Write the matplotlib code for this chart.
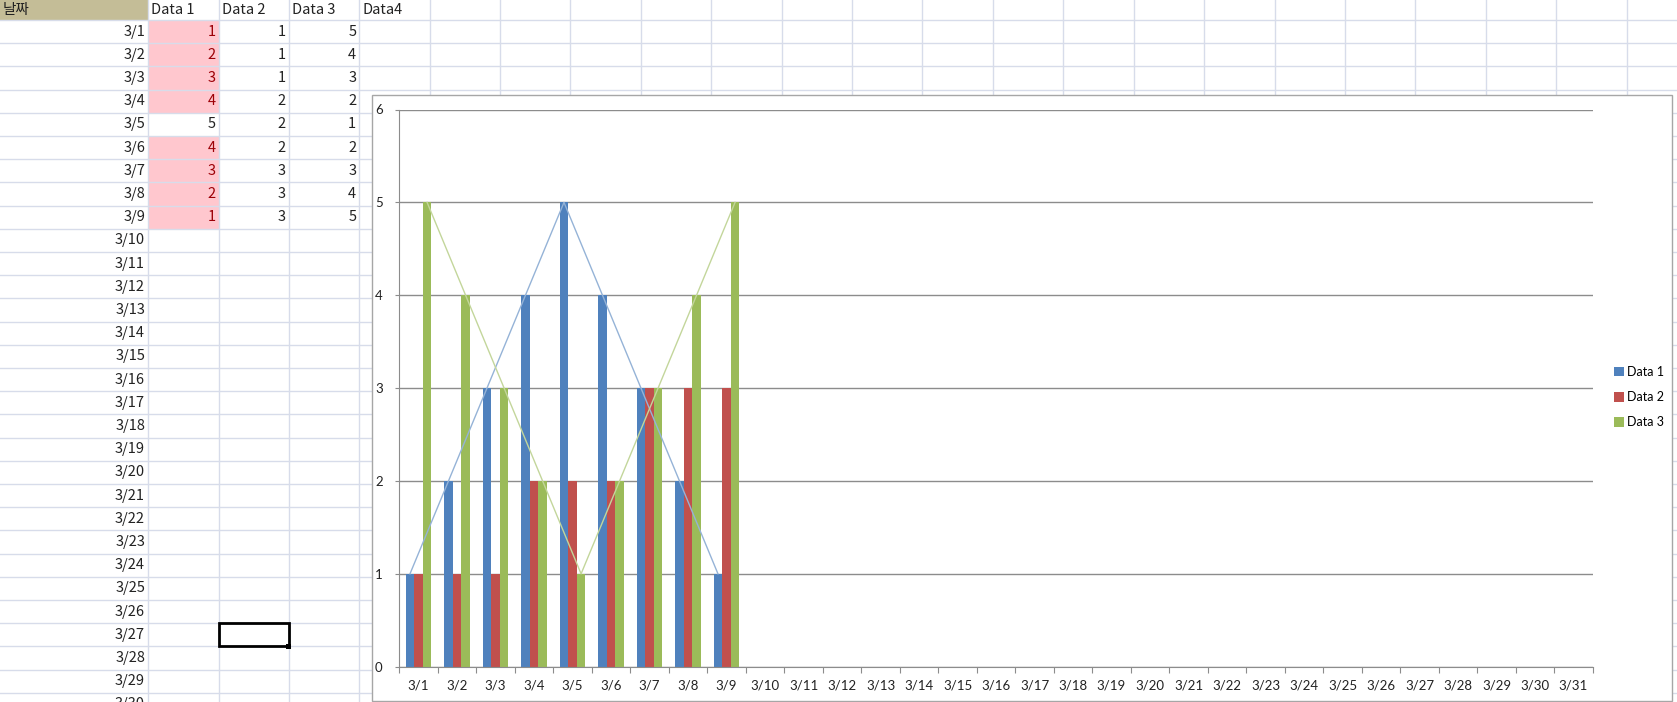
import numpy as np
import matplotlib
matplotlib.use("Agg")
from matplotlib import pyplot as plt
from matplotlib.patches import Rectangle

# data
dates = [f"3/{d}" for d in range(1, 32)]
data1 = [1, 2, 3, 4, 5, 4, 3, 2, 1]
data2 = [1, 1, 1, 2, 2, 2, 3, 3, 3]
data3 = [5, 4, 3, 2, 1, 2, 3, 4, 5]
headers = ["날짜", "Data 1", "Data 2", "Data 3", "Data4"]
series_names = ["Data 1", "Data 2", "Data 3"]
yticks = [0, 1, 2, 3, 4, 5, 6]

W, H = 1677, 702
fig = plt.figure(figsize=(W / 100, H / 100), dpi=100)

# spreadsheet background, drawn in pixel coordinates
bg = fig.add_axes([0, 0, 1, 1])
bg.set_xlim(0, W)
bg.set_ylim(H, 0)
bg.axis("off")

grid_c = "#D7DCEA"
sheet_font = ["Noto Sans CJK KR", "DejaVu Sans"]
row_top, row_h = 20.0, 23.2
col_edges = [0, 148, 218.7, 288.9, 359.3]
x = col_edges[-1]
while x < W:
    x += 70.4
    col_edges.append(x)

bg.add_patch(Rectangle((0, 0), 148, row_top, color="#C4BD97", lw=0))

# conditional fill for Data 1
for i, v in enumerate(data1):
    if v < max(data1):
        bg.add_patch(Rectangle((148, row_top + i * row_h), 70.7, row_h,
                               color="#FFC7CE", lw=0))

y = row_top
while y < H:
    bg.axhline(y, color=grid_c, lw=1, zorder=1)
    y += row_h
for xe in col_edges[1:]:
    bg.axvline(xe, color=grid_c, lw=1, zorder=1)

# header row
for j, h in enumerate(headers):
    bg.text(col_edges[j] + 3, row_top / 2, h, family=sheet_font,
            fontsize=10.5, ha="left", va="center", color="#222222")

# dates column
for i, d in enumerate(dates[:30]):
    yc = row_top + (i + 0.5) * row_h
    bg.text(145, yc, d, family=sheet_font, fontsize=10.5,
            ha="right", va="center", color="#222222")

for j, vals in enumerate([data1, data2, data3]):
    for i, v in enumerate(vals):
        yc = row_top + (i + 0.5) * row_h
        c = "#9C0006" if (j == 0 and v < max(data1)) else "#222222"
        bg.text(col_edges[j + 2] - 3, yc, str(v), family=sheet_font,
                fontsize=10.5, ha="right", va="center", color=c)

# selected cell
bg.add_patch(Rectangle((218.7, row_top + 26 * row_h), 70.2, row_h,
                       fill=False, ec="black", lw=2, zorder=3))
bg.add_patch(Rectangle((286.5, row_top + 27 * row_h - 2.5), 5, 5,
                       color="black", lw=0, zorder=4))

# chart area
bg.add_patch(Rectangle((372, 95), 1300, 606, facecolor="white",
                       edgecolor="#A6A6A6", lw=1, zorder=5))

left, right, top, bottom = 399.3, 1592.7, 109.5, 666.7
ax = fig.add_axes([left / W, 1 - bottom / H, (right - left) / W,
                   (bottom - top) / H])
ax.patch.set_alpha(0)

chart_font = ["Lato", "DejaVu Sans"]
colors = ["#4F81BD", "#C0504D", "#9BBB59"]
bw = 1 / 4.5
pos = np.arange(len(data1))
for k, vals in enumerate([data1, data2, data3]):
    ax.bar(pos + (k - 1) * bw, vals, width=bw, color=colors[k],
           label=series_names[k], zorder=2)

ax.plot(pos - bw, data1, color="#95B3D7", lw=1, zorder=3)
ax.plot(pos + bw, data3, color="#C3D69B", lw=1, zorder=3)

ax.set_xlim(-0.5, len(dates) - 0.5)
ax.set_ylim(0, 6)
ax.set_yticks(yticks)
ax.yaxis.grid(True, color="#8C8C8C", lw=1)
ax.set_axisbelow(True)
for s in ["top", "right"]:
    ax.spines[s].set_visible(False)
for s in ["left", "bottom"]:
    ax.spines[s].set_color("#8C8C8C")
ax.tick_params(axis="y", length=3, color="#8C8C8C", pad=9,
               labelsize=9.5, labelcolor="#222222")
ax.set_xticks(np.arange(len(dates) + 1) - 0.5)
ax.set_xticklabels([])
ax.tick_params(axis="x", which="major", length=4, color="#8C8C8C")
ax.set_xticks(np.arange(len(dates)), minor=True)
ax.set_xticklabels(dates, minor=True)
ax.tick_params(axis="x", which="minor", length=0, pad=9,
               labelsize=9.5, labelcolor="#222222")
for t in ax.get_xticklabels(minor=True) + ax.get_yticklabels():
    t.set_family(chart_font)

fig.legend(loc="center left", bbox_to_anchor=(1608 / W, 1 - 397.3 / H),
           frameon=False, borderpad=0, handlelength=0.75, handleheight=0.75,
           handletextpad=0.3, labelspacing=1.05,
           prop={"family": chart_font, "size": 9})

fig.savefig("out.png", dpi=100)
